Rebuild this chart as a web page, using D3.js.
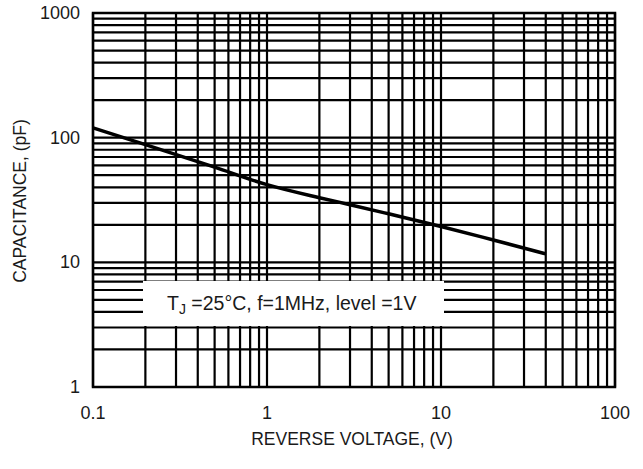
<!DOCTYPE html>
<html>
<head>
<meta charset="utf-8">
<script src="https://cdn.jsdelivr.net/npm/d3@7"></script>
<style>
 body { margin: 0; background: #fff; }
 text { font-family: "Liberation Sans", Arial, sans-serif; fill: #1a1a1a; }
</style>
</head>
<body>
<svg width="643" height="469"></svg>
<script>
// Data
var voltage = [0.1, 0.2, 0.5, 1, 2, 3, 5, 10, 20, 40];
var capacitance = [120, 88, 58, 42, 33, 29, 24.5, 19.4, 15.1, 11.7];

var xDomain = [0.1, 100];
var yDomain = [1, 1000];
var xTickLabels = [0.1, 1, 10, 100];
var yTickLabels = [1, 10, 100, 1000];

var xTitle = "REVERSE VOLTAGE, (V)";
var yTitle = "CAPACITANCE, (pF)";

var svg = d3.select("svg"),
 margin = {
  top: 13,
  right: 28,
  bottom: 82,
  left: 93
 },
 width = +svg.attr("width") - margin.left - margin.right,
 height = +svg.attr("height") - margin.top - margin.bottom;

var x = d3.scaleLog().domain(xDomain).range([0, width]);
var y = d3.scaleLog().domain(yDomain).range([height, 0]);

var g = svg.append("g")
 .attr("transform", "translate(" + margin.left + "," + margin.top + ")");

// Grid, every decade and every minor step, all the same weight
g.selectAll(".vgrid")
 .data(x.ticks())
 .enter()
 .append("line")
 .attr("class", "vgrid")
 .attr("x1", function(d) { return x(d); })
 .attr("x2", function(d) { return x(d); })
 .attr("y1", 0)
 .attr("y2", height)
 .attr("stroke", "#000")
 .attr("stroke-width", 2.2);

g.selectAll(".hgrid")
 .data(y.ticks())
 .enter()
 .append("line")
 .attr("class", "hgrid")
 .attr("x1", 0)
 .attr("x2", width)
 .attr("y1", function(d) { return y(d); })
 .attr("y2", function(d) { return y(d); })
 .attr("stroke", "#000")
 .attr("stroke-width", 2.2);

// Frame
g.append("rect")
 .attr("x", 0)
 .attr("y", 0)
 .attr("width", width)
 .attr("height", height)
 .attr("fill", "none")
 .attr("stroke", "#000")
 .attr("stroke-width", 2.5);

// Capacitance curve
var line = d3.line()
 .x(function(d, i) { return x(voltage[i]); })
 .y(function(d) { return y(d); })
 .curve(d3.curveMonotoneX);

g.append("path")
 .datum(capacitance)
 .attr("d", line)
 .attr("fill", "none")
 .attr("stroke", "#000")
 .attr("stroke-width", 3.5)
 .attr("stroke-linecap", "butt");

// Condition box (white, no border)
g.append("rect")
 .attr("x", 50)
 .attr("y", 268)
 .attr("width", 301)
 .attr("height", 45)
 .attr("fill", "#fff");

var cond = g.append("text")
 .attr("x", 74)
 .attr("y", 297)
 .attr("font-size", "19.5px");
cond.append("tspan").text("T");
cond.append("tspan").attr("font-size", "14px").attr("dy", 4).text("J");
cond.append("tspan").attr("dy", -4).text(" =25°C, f=1MHz, level =1V");

// Tick labels
svg.selectAll(".xlab")
 .data(xTickLabels)
 .enter()
 .append("text")
 .attr("class", "xlab")
 .attr("x", function(d) { return margin.left + x(d); })
 .attr("y", 419)
 .attr("text-anchor", "middle")
 .attr("font-size", "18px")
 .text(function(d) { return d; });

svg.selectAll(".ylab")
 .data(yTickLabels)
 .enter()
 .append("text")
 .attr("class", "ylab")
 .attr("x", 80)
 .attr("y", function(d) { return margin.top + y(d) + 6; })
 .attr("text-anchor", "end")
 .attr("font-size", "18px")
 .text(function(d) { return d; });

// Axis titles
svg.append("text")
 .attr("x", 352)
 .attr("y", 445)
 .attr("text-anchor", "middle")
 .attr("font-size", "17.5px")
 .text(xTitle);

svg.append("text")
 .attr("transform", "translate(26,201) rotate(-90)")
 .attr("text-anchor", "middle")
 .attr("font-size", "17.5px")
 .text(yTitle);
</script>
</body>
</html>
